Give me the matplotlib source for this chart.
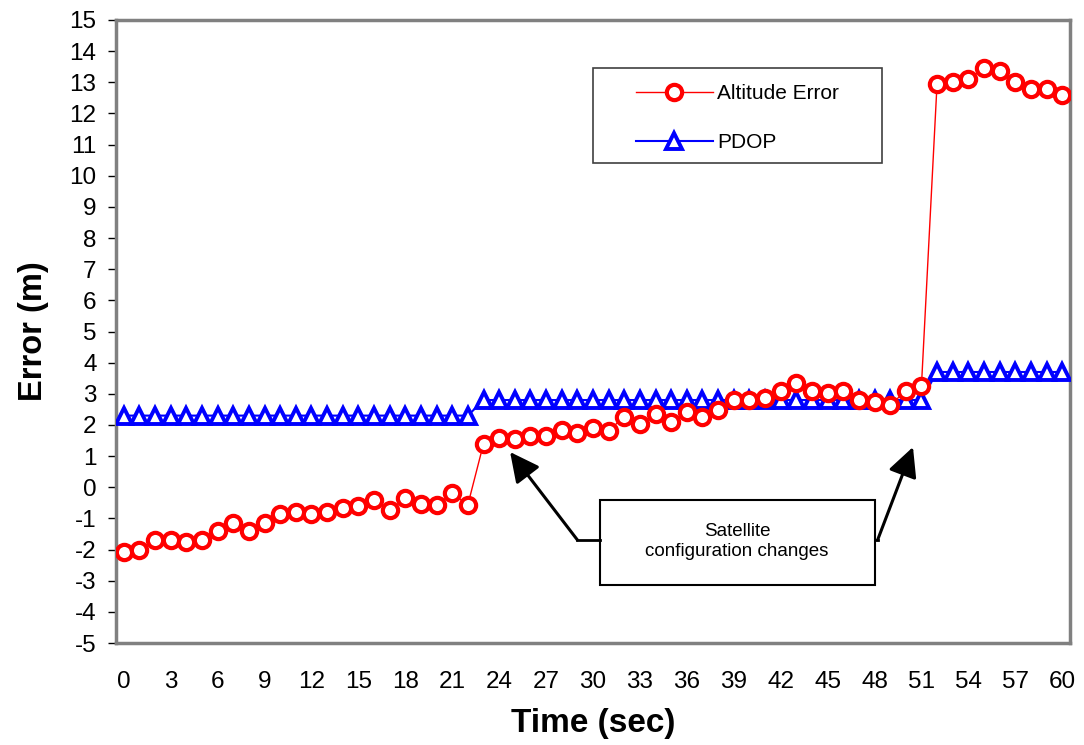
import matplotlib
matplotlib.use("Agg")
import matplotlib.pyplot as plt
from matplotlib.patches import Rectangle

plt.rcParams['font.family'] = ['Liberation Sans', 'DejaVu Sans']
plt.rcParams['axes.unicode_minus'] = False

# donnees
time_sec = list(range(61))
altitude_error = [-2.07, -2.0, -1.68, -1.68, -1.75, -1.68, -1.4, -1.16, -1.4, -1.15,
                  -0.87, -0.8, -0.87, -0.8, -0.68, -0.6, -0.41, -0.74, -0.35, -0.53,
                  -0.57, -0.2, -0.56, 1.4, 1.59, 1.56, 1.65, 1.65, 1.83, 1.75,
                  1.91, 1.82, 2.26, 2.03, 2.35, 2.1, 2.42, 2.27, 2.49, 2.8,
                  2.8, 2.85, 3.08, 3.34, 3.08, 3.02, 3.1, 2.8, 2.75, 2.65,
                  3.08, 3.24, 12.96, 13.01, 13.11, 13.46, 13.35, 13.01, 12.77, 12.77,
                  12.59]
pdop = [2.3] * 23 + [2.8] * 29 + [3.7] * 9
xtick_labels = list(range(0, 61, 3))

fig = plt.figure(figsize=(10.84, 7.45), dpi=100)
ax = fig.add_axes([116 / 1084, 1 - 643 / 745, 954 / 1084, 623 / 745])

ax.plot(time_sec, pdop, color='blue', linewidth=1.5, marker='^', markersize=11.5,
        markerfacecolor='white', markeredgecolor='blue', markeredgewidth=2.8,
        label='PDOP', zorder=3)
ax.plot(time_sec, altitude_error, color='red', linewidth=1.0, marker='o', markersize=11,
        markerfacecolor='white', markeredgecolor='red', markeredgewidth=3,
        label='Altitude Error', zorder=4)

ax.set_xlim(-0.5, 60.5)
ax.set_ylim(-5, 15)
ax.set_yticks(range(-5, 16))
ax.set_xticks(xtick_labels)
ax.tick_params(axis='y', labelsize=17.5, direction='out', length=6, width=1, color='black', pad=8)
ax.tick_params(axis='x', labelsize=17.5, length=0, pad=20)

for side in ['top', 'right', 'bottom', 'left']:
    ax.spines[side].set_color('#808080')
    ax.spines[side].set_linewidth(2.5)

ax.set_xlabel('Time (sec)', fontsize=24, fontweight='bold', labelpad=11)
ax.set_ylabel('Error (m)', fontsize=23.5, fontweight='bold', labelpad=15)

# cadre de la legende dessine a part
ax.add_patch(Rectangle((0.5, 0.77), 0.303, 0.153, transform=ax.transAxes,
                       facecolor='white', edgecolor='#404040', linewidth=1.2, zorder=6))
handles, labels = ax.get_legend_handles_labels()
leg = ax.legend(handles[::-1], labels[::-1], loc='upper left',
                bbox_to_anchor=(0.535, 0.912), frameon=False,
                fontsize=15, handlelength=3.7, handletextpad=0.2, labelspacing=1.45,
                borderpad=0.45, borderaxespad=0)
leg.set_zorder(7)

# encadre des changements de configuration
box = Rectangle((30.45, -3.14), 17.55, 2.73, facecolor='white', edgecolor='black',
                linewidth=1.5, zorder=5)
ax.add_patch(box)
ax.text(39.2, -1.74, 'Satellite\nconfiguration changes', ha='center', va='center',
        fontsize=13.5, linespacing=1.25, zorder=6)

ax.plot([30.45, 29.0], [-1.69, -1.69], color='black', linewidth=2, zorder=5)
ax.annotate('', xy=(24.7, 1.13), xytext=(29.0, -1.69),
            arrowprops=dict(arrowstyle='-|>,head_length=0.6,head_width=0.3', color='black',
                            linewidth=2.2, mutation_scale=30, shrinkA=0, shrinkB=0), zorder=5)
ax.plot([48.0, 48.2], [-1.69, -1.69], color='black', linewidth=2, zorder=5)
ax.annotate('', xy=(50.46, 1.29), xytext=(48.2, -1.69),
            arrowprops=dict(arrowstyle='-|>,head_length=0.6,head_width=0.3', color='black',
                            linewidth=2.2, mutation_scale=30, shrinkA=0, shrinkB=0), zorder=5)

fig.savefig('out.png', dpi=100)
